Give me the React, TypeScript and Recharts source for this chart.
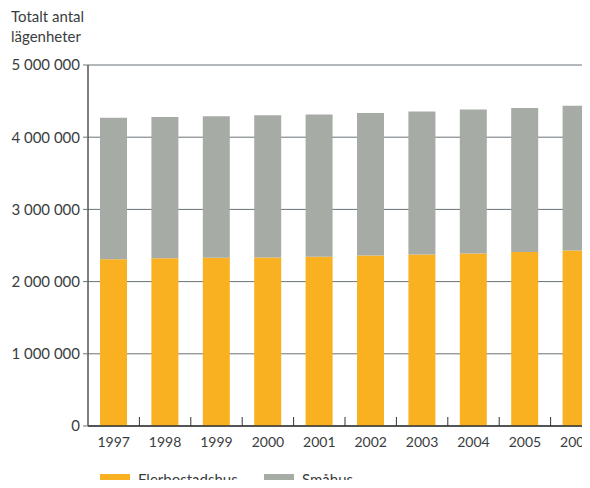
import React from "react";
import { BarChart, Bar, XAxis, YAxis, CartesianGrid } from "recharts";

// årtal och antal lägenheter
const years = ["1997", "1998", "1999", "2000", "2001", "2002", "2003", "2004", "2005", "2006"];
const flerbostadshus = [2310000, 2325000, 2330000, 2335000, 2345000, 2360000, 2375000, 2390000, 2410000, 2430000];
const totalt = [4270000, 4280000, 4290000, 4305000, 4315000, 4335000, 4355000, 4385000, 4405000, 4435000];
const smahus = totalt.map((t, i) => t - flerbostadshus[i]);
const yTicks = [0, 1000000, 2000000, 3000000, 4000000, 5000000];

const data = years.map((year, i) => ({
  year,
  flerbostadshus: flerbostadshus[i],
  smahus: smahus[i],
}));

const CHART_W = 602;
const CHART_H = 488;
const Y_W = 88;
const FONT = "Lato, 'Open Sans', sans-serif";
const TEXT = "#3a3d40";
const ORANGE = "#F9B122";
const GREY = "#A7ABA6";

const fmt = (v: number) =>
  v === 0 ? "0" : String(v).replace(/\B(?=(\d{3})+(?!\d))/g, " ");

const bw = (CHART_W - Y_W) / years.length;

const XTick = (props: any) => {
  const { x, y, payload, index } = props;
  return (
    <g>
      {index < years.length - 1 && (
        <line x1={x + bw / 2} x2={x + bw / 2} y1={y} y2={y - 9} stroke="#333" strokeWidth={1} />
      )}
      <text x={x} y={y + 21} textAnchor="middle" fill={TEXT} fontSize={14} fontFamily={FONT}>
        {payload.value}
      </text>
    </g>
  );
};

const App: React.FC = () => {
  return (
    <div style={{ margin: -8, width: 590, height: 488, overflow: "hidden", position: "relative", fontFamily: FONT }}>
      <div style={{ position: "absolute", left: 11, top: 6, fontSize: 15, lineHeight: "20px", color: TEXT }}>
        Totalt antal
        <br />
        lägenheter
      </div>
      <BarChart
        width={CHART_W}
        height={CHART_H}
        data={data}
        margin={{ top: 65, right: 0, left: 0, bottom: 0 }}
        barSize={27}
      >
        <CartesianGrid horizontal vertical={false} stroke="#6b7377" strokeWidth={1} />
        <XAxis
          dataKey="year"
          axisLine={{ stroke: "#333", strokeWidth: 1.5 }}
          tickLine={false}
          tickSize={0}
          tickMargin={0}
          tick={<XTick />}
          interval={0}
          height={62}
        />
        <YAxis
          width={Y_W}
          domain={[0, 5000000]}
          ticks={yTicks}
          tickFormatter={fmt}
          axisLine={{ stroke: "#555", strokeWidth: 1.5 }}
          tickLine={{ stroke: "#6b7377" }}
          tickSize={5}
          tickMargin={3}
          tick={{ fill: TEXT, fontSize: 15, fontFamily: FONT }}
        />
        <Bar dataKey="flerbostadshus" stackId="a" fill={ORANGE} isAnimationActive={false} />
        <Bar dataKey="smahus" stackId="a" fill={GREY} isAnimationActive={false} />
      </BarChart>
      <div style={{ position: "absolute", left: 100, top: 474, width: 30, height: 14, background: ORANGE }} />
      <div style={{ position: "absolute", left: 138, top: 469, fontSize: 15, color: TEXT, lineHeight: "20px" }}>
        Flerbostadshus
      </div>
      <div style={{ position: "absolute", left: 264, top: 474, width: 30, height: 14, background: GREY }} />
      <div style={{ position: "absolute", left: 302, top: 469, fontSize: 15, color: TEXT, lineHeight: "20px" }}>
        Småhus
      </div>
    </div>
  );
};

export default App;
